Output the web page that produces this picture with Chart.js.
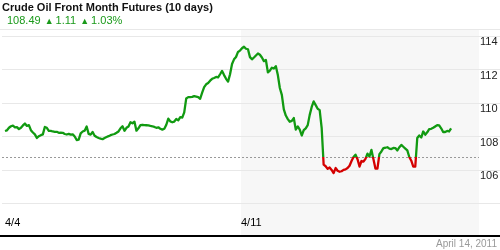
<!DOCTYPE html>
<html>
<head>
<meta charset="utf-8">
<script src="https://cdn.jsdelivr.net/npm/chart.js"></script>
<style>
  body { margin: 0; background: #fff; font-family: Arial, "Liberation Sans", sans-serif; }
  #wrap { position: relative; width: 500px; height: 250px; }
  #title { position: absolute; left: 2px; top: 1px; font-size: 11px; font-weight: bold; color: #111; }
  #quote { position: absolute; left: 7px; top: 14px; font-size: 11px; color: #1a9a1a; white-space: pre; }
  #quote .tri { font-size: 9px; margin: 0 2px 0 4px; }
  #asof { position: absolute; right: 3px; top: 238px; font-size: 10px; color: #999; }
</style>
</head>
<body>
<div id="wrap">
  <canvas id="oilChart"></canvas>
  <div id="title"></div>
  <div id="quote"></div>
  <div id="asof"></div>
</div>
<script>
const chartTitle = 'Crude Oil Front Month Futures (10 days)';
const lastPrice = '108.49';
const netChange = '1.11';
const pctChange = '1.03%';
const asOfDate = 'April 14, 2011';

// one reading every ~hour of trading, 4/4 to 4/14
const prices = [
  108.34, 108.38, 108.53, 108.62, 108.66, 108.56, 108.57, 108.45, 108.53, 108.67,
  108.78, 108.64, 108.69, 108.39, 108.25, 108.14, 107.92, 108.03, 108.09, 108.14,
  108.58, 108.53, 108.35, 108.35, 108.31, 108.29, 108.29, 108.23, 108.24, 108.23,
  108.16, 108.13, 108.17, 108.12, 108.14, 108.01, 107.80, 107.83, 108.20, 108.31,
  108.36, 108.61, 108.17, 108.12, 108.28, 108.06, 107.98, 107.92, 107.88, 107.85,
  107.92, 107.98, 108.03, 108.09, 108.13, 108.16, 108.23, 108.31, 108.50, 108.62,
  108.35, 108.53, 108.61, 108.86, 108.80, 108.89, 108.36, 108.50, 108.69, 108.71,
  108.69, 108.68, 108.67, 108.64, 108.62, 108.58, 108.53, 108.56, 108.47, 108.42,
  108.47, 108.71, 109.08, 108.91, 108.86, 108.90, 109.05, 108.97, 109.16, 109.14,
  109.45, 110.28, 110.36, 110.36, 110.37, 110.42, 110.39, 110.36, 110.26, 110.62,
  110.95, 111.12, 111.20, 111.34, 111.45, 111.50, 111.56, 111.53, 111.72, 111.92,
  111.67, 111.45, 111.28, 111.72, 112.33, 112.61, 112.75, 113.05, 113.13, 113.27,
  113.36, 113.24, 113.21, 112.74, 112.61, 112.72, 112.84, 112.96, 112.88, 112.72,
  112.50, 112.57, 111.83, 111.94, 112.11, 112.06, 112.20, 111.67, 110.90, 110.49,
  109.63, 109.26, 109.05, 108.89, 108.94, 109.11, 108.42, 108.61, 108.42, 108.07,
  108.39, 108.50, 108.69, 109.30, 109.77, 110.10, 109.88, 109.66, 109.58, 108.53,
  106.33, 106.24, 106.08, 106.16, 106.02, 105.83, 106.13, 105.97, 105.91, 105.94,
  106.02, 106.05, 106.13, 106.27, 106.55, 106.79, 106.93, 106.66, 106.22, 106.55,
  106.52, 106.68, 106.99, 106.82, 107.21, 106.66, 106.10, 106.10, 106.96, 107.12,
  107.32, 107.34, 107.37, 107.29, 107.26, 107.33, 107.32, 107.18, 107.37, 107.51,
  107.40, 107.29, 107.18, 106.79, 106.57, 106.22, 106.22, 107.92, 108.07, 107.95,
  108.31, 108.12, 108.26, 108.45, 108.47, 108.53, 108.61, 108.69, 108.67, 108.50,
  108.28, 108.28, 108.34, 108.31, 108.49
];
const refLevel = 106.8;           // dashed line, below it the line turns red
const tickLabels = ['4/4', '4/11'];
const tickIndex = [0, 118.5];     // where each day starts in the series
const yTicks = [104, 106, 108, 110, 112, 114];

const green = '#119a11';
const red = '#d40000';

document.getElementById('title').textContent = chartTitle;
document.getElementById('quote').innerHTML =
  lastPrice + '<span class="tri">▲</span>' + netChange + '<span class="tri">▲</span>' + pctChange;
document.getElementById('asof').textContent = asOfDate;

const backdrop = {
  id: 'backdrop',
  beforeDraw(chart) {
    const { ctx, chartArea, scales } = chart;
    const x0 = scales.x.getPixelForValue(tickIndex[1]);
    ctx.save();
    // shaded current week
    ctx.fillStyle = '#f7f7f7';
    ctx.fillRect(x0, 30, chartArea.right - x0, 205);
    ctx.fillStyle = '#e8e8e8';
    ctx.fillRect(0, 29, chart.width, 1);
    ctx.restore();
  },
  beforeDatasetsDraw(chart) {
    const { ctx, chartArea, scales } = chart;
    const y = Math.round(scales.y.getPixelForValue(refLevel)) + 0.5;
    ctx.save();
    ctx.strokeStyle = '#999';
    ctx.lineWidth = 1;
    ctx.setLineDash([2, 2]);
    ctx.beginPath();
    ctx.moveTo(chartArea.left, y);
    ctx.lineTo(chartArea.right, y);
    ctx.stroke();
    ctx.restore();
  },
  afterDraw(chart) {
    const ctx = chart.ctx;
    ctx.save();
    ctx.fillStyle = '#000';
    ctx.fillRect(0, 235, chart.width, 2);
    ctx.restore();
  }
};

const ctx = document.getElementById('oilChart');

new Chart(ctx, {
  type: 'line',
  data: {
    labels: prices.map((p, i) => i),
    datasets: [{
      data: prices,
      borderWidth: 2.3,
      pointRadius: 0,
      tension: 0,
      borderJoinStyle: 'round',
      borderColor: (c) => {
        const { chart } = c;
        const area = chart.chartArea;
        if (!area) return green;
        const yRef = chart.scales.y.getPixelForValue(refLevel);
        const stop = Math.min(Math.max((yRef - area.top) / (area.bottom - area.top), 0), 1);
        const g = chart.ctx.createLinearGradient(0, area.top, 0, area.bottom);
        g.addColorStop(0, green);
        g.addColorStop(stop, green);
        g.addColorStop(stop, red);
        g.addColorStop(1, red);
        return g;
      }
    }]
  },
  options: {
    responsive: true,
    maintainAspectRatio: false,
    animation: false,
    layout: { padding: { top: 36, bottom: 15, left: 0, right: 0 } },
    plugins: {
      legend: { display: false },
      tooltip: { enabled: false }
    },
    scales: {
      x: {
        type: 'linear',
        min: -1.5,
        max: 238,
        afterBuildTicks(scale) {
          scale.ticks = tickIndex.map(v => ({ value: v }));
        },
        grid: { display: false },
        border: { display: false },
        ticks: {
          align: 'start',
          padding: 5,
          maxRotation: 0,
          autoSkip: false,
          color: '#000',
          font: { size: 11, family: 'Arial, "Liberation Sans", sans-serif' },
          callback: (v, i) => tickLabels[i]
        }
      },
      y: {
        position: 'right',
        min: yTicks[0],
        max: yTicks[yTicks.length - 1],
        afterFit(scale) { scale.width = 21; },
        afterBuildTicks(scale) {
          scale.ticks = yTicks.map(v => ({ value: v }));
        },
        border: { display: false },
        grid: {
          color: '#e8e8e8',
          drawTicks: true,
          tickLength: 21
        },
        ticks: {
          padding: -20,
          labelOffset: 6,
          color: '#222',
          font: { size: 11, family: 'Arial, "Liberation Sans", sans-serif' },
          callback: (v) => v === yTicks[0] ? '' : v
        }
      }
    }
  },
  plugins: [backdrop]
});
</script>
</body>
</html>
